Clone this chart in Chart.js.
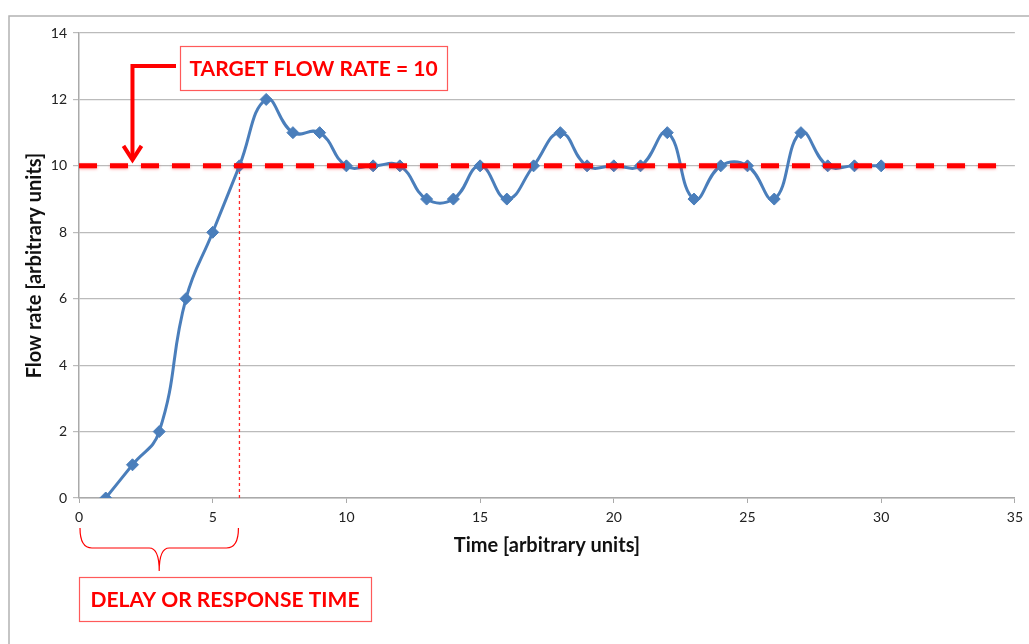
<!DOCTYPE html>
<html>
<head>
<meta charset="utf-8">
<script src="https://cdn.jsdelivr.net/npm/chart.js@4"></script>
<style>
  html, body { margin: 0; padding: 0; background: #fff; }
  #wrap { width: 1029px; height: 644px; }
</style>
</head>
<body>
<div id="wrap"><canvas id="myChart" width="1029" height="644"></canvas></div>
<script>
// data
var times = [1, 2, 3, 4, 5, 6, 7, 8, 9, 10, 11, 12, 13, 14, 15, 16, 17, 18, 19, 20, 21, 22, 23, 24, 25, 26, 27, 28, 29, 30];
var flow  = [0, 1, 2, 6, 8, 10, 12, 11, 11, 10, 10, 10, 9, 9, 10, 9, 10, 11, 10, 10, 10, 11, 9, 10, 10, 9, 11, 10, 10, 10];
var targetRate = 10;
var targetSpan = [0, 34.3];
var responseTime = 6;
var xTicks = [0, 5, 10, 15, 20, 25, 30, 35];
var yTicks = [0, 2, 4, 6, 8, 10, 12, 14];

var RED = '#ff0000';
var FONT = 'Lato, "Open Sans", sans-serif';

function pts(xs, ys) {
    return xs.map(function (x, i) { return { x: x, y: ys[i] }; });
}

// frame + callout boxes, drawn around the chart
var annotations = {
    id: 'annotations',
    beforeDraw: function (chart) {
        var c = chart.ctx;
        c.save();
        c.fillStyle = '#fff';
        c.fillRect(0, 0, chart.width, chart.height);
        c.strokeStyle = '#b3b3b3';
        c.lineWidth = 1.5;
        c.beginPath();
        c.moveTo(9, chart.height);
        c.lineTo(9, 16);
        c.lineTo(chart.width, 16);
        c.stroke();
        c.restore();
    },
    afterDraw: function (chart) {
        var c = chart.ctx;
        var xs = chart.scales.x, ys = chart.scales.y;
        c.save();

        // target label box
        box(c, 180, 46, 267, 44, 'TARGET FLOW RATE = 10');

        // bent arrow from box down to the target line
        var ax = xs.getPixelForValue(2);
        var tip = ys.getPixelForValue(targetRate) - 6;
        c.strokeStyle = RED;
        c.lineWidth = 4;
        c.lineJoin = 'miter';
        c.beginPath();
        c.moveTo(176, 66);
        c.lineTo(ax, 66);
        c.lineTo(ax, tip);
        c.stroke();
        c.beginPath();
        c.moveTo(ax - 9, tip - 14);
        c.lineTo(ax, tip);
        c.lineTo(ax + 9, tip - 14);
        c.stroke();

        // curly brace under the delay
        var x0 = xs.getPixelForValue(0) + 1;
        var x1 = xs.getPixelForValue(responseTime) - 1;
        var xm = (x0 + x1) / 2;
        var yt = 528, yb = 548, yp = 571;
        c.lineWidth = 1.2;
        c.beginPath();
        c.moveTo(x0, yt);
        c.quadraticCurveTo(x0, yb, x0 + 12, yb);
        c.lineTo(xm - 10, yb);
        c.quadraticCurveTo(xm, yb, xm, yp);
        c.quadraticCurveTo(xm, yb, xm + 10, yb);
        c.lineTo(x1 - 12, yb);
        c.quadraticCurveTo(x1, yb, x1, yt);
        c.stroke();

        box(c, 79, 577, 292, 44, 'DELAY OR RESPONSE TIME');
        c.restore();
    }
};

function box(c, x, y, w, h, text) {
    c.fillStyle = '#fff';
    c.fillRect(x, y, w, h);
    c.strokeStyle = '#ff5a5a';
    c.lineWidth = 1.2;
    c.strokeRect(x + 0.5, y + 0.5, w, h);
    c.fillStyle = RED;
    c.font = 'bold 21px ' + FONT;
    c.textAlign = 'center';
    c.textBaseline = 'middle';
    c.fillText(text, x + w / 2, y + h / 2 + 1);
}

// soft shadow on the dashed target line
var shadow = {
    id: 'shadow',
    beforeDatasetDraw: function (chart, args) {
        if (args.index === 1) {
            chart.ctx.save();
            chart.ctx.shadowColor = 'rgba(255,0,0,0.35)';
            chart.ctx.shadowBlur = 3;
            chart.ctx.shadowOffsetY = 1;
        }
    },
    afterDatasetDraw: function (chart, args) {
        if (args.index === 1) chart.ctx.restore();
    }
};

var ctx = document.getElementById('myChart').getContext('2d');
new Chart(ctx, {
    type: 'scatter',
    data: {
        datasets: [{
            label: 'Flow rate',
            data: pts(times, flow),
            showLine: true,
            borderColor: '#4a7ebb',
            backgroundColor: '#4a7ebb',
            borderWidth: 3,
            tension: 0.45,
            pointStyle: 'rectRot',
            pointRadius: 6,
            pointBorderWidth: 1,
            order: 1
        }, {
            label: 'Target',
            data: pts(targetSpan, [targetRate, targetRate]),
            showLine: true,
            borderColor: RED,
            borderWidth: 5,
            borderDash: [18, 13],
            pointRadius: 0,
            order: 0
        }, {
            label: 'Response',
            data: pts([responseTime, responseTime], [0, targetRate]),
            showLine: true,
            borderColor: '#ff2a2a',
            borderWidth: 1.3,
            borderDash: [3, 3],
            pointRadius: 0,
            order: 2
        }]
    },
    options: {
        responsive: false,
        animation: false,
        layout: { padding: { top: 33, right: 12, left: 0, bottom: 0 } },
        plugins: {
            legend: { display: false },
            tooltip: { enabled: false }
        },
        scales: {
            x: {
                type: 'linear',
                min: 0,
                max: 35,
                afterBuildTicks: function (s) { s.ticks = xTicks.map(function (v) { return { value: v }; }); },
                afterFit: function (s) { s.height = 146; },
                ticks: { font: { family: FONT, size: 14 }, color: '#222', padding: 6, maxRotation: 0 },
                grid: { drawOnChartArea: false, drawTicks: true, tickLength: 5, color: '#aaa' },
                border: { color: '#aaa', width: 1.5 },
                title: {
                    display: true,
                    text: 'Time [arbitrary units]',
                    font: { family: FONT, size: 20, weight: 'bold' },
                    color: '#111',
                    padding: { top: 0, bottom: 86 }
                }
            },
            y: {
                min: 0,
                max: 14,
                afterBuildTicks: function (s) { s.ticks = yTicks.map(function (v) { return { value: v }; }); },
                afterFit: function (s) { s.width = 79; },
                ticks: { font: { family: FONT, size: 14 }, color: '#222', padding: 6 },
                grid: { color: '#bbb', lineWidth: 1.2, tickLength: 6 },
                border: { color: '#aaa', width: 1.5 },
                title: {
                    display: true,
                    text: 'Flow rate [arbitrary units]',
                    font: { family: FONT, size: 20, weight: 'bold' },
                    color: '#111',
                    padding: { top: 23, bottom: 0 }
                }
            }
        }
    },
    plugins: [annotations, shadow]
});
</script>
</body>
</html>
